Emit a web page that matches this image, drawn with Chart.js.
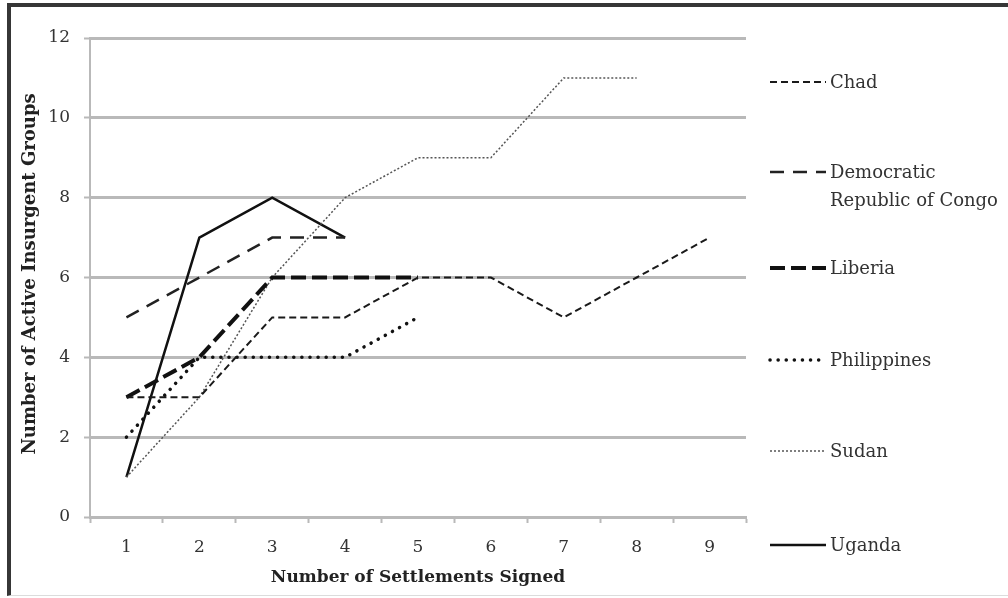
<!DOCTYPE html>
<html>
<head>
<meta charset="utf-8">
<script src="https://cdn.jsdelivr.net/npm/chart.js@4.4.1/dist/chart.umd.min.js"></script>
<style>
    body { margin: 0; background: #fff; }
    #wrap { position: relative; width: 1008px; height: 598px; overflow: hidden; }
    #frame {
        position: absolute; left: 7px; top: 3px; width: 1010px; height: 588px;
        border-top: 4px solid #363636; border-left: 4px solid #363636;
        border-bottom: 1px solid #dcdcdc;
    }
    canvas { position: absolute; left: 0; top: 0; }
</style>
</head>
<body>
<div id="wrap">
    <div id="frame"></div>
    <canvas id="chart" width="1008" height="598"></canvas>
</div>
<script>
// Number of settlements signed (x categories)
const categories = ["1", "2", "3", "4", "5", "6", "7", "8", "9"];

// Active insurgent groups per country
const chad = [3, 3, 5, 5, 6, 6, 5, 6, 7];
const drc = [5, 6, 7, 7];
const liberia = [3, 4, 6, 6, 6];
const philippines = [2, 4, 4, 4, 5];
const sudan = [1, 3, 6, 8, 9, 9, 11, 11];
const uganda = [1, 7, 8, 7];

const countryNames = ["Chad", "Democratic\nRepublic of Congo", "Liberia", "Philippines", "Sudan", "Uganda"];

const serif = "'DejaVu Serif', 'Liberation Serif', serif";
const gridGrey = "#b9b9b9";

function line(label, data, width, dash, color, cap) {
    return {
        label: label,
        data: data,
        borderColor: color,
        borderWidth: width,
        borderDash: dash,
        borderCapStyle: cap || "butt",
        pointRadius: 0,
        fill: false,
        tension: 0
    };
}

// legend rows: y of sample line / first text line
const legendRows = [82, 172, 268, 360, 451, 545];

const sidePlugin = {
    id: "side",
    afterDraw(chart) {
        const ctx = chart.ctx;
        ctx.save();
        // legend
        chart.data.datasets.forEach((ds, i) => {
            const y = legendRows[i];
            ctx.beginPath();
            ctx.strokeStyle = ds.borderColor;
            ctx.lineWidth = ds.borderWidth;
            ctx.lineCap = ds.borderCapStyle;
            ctx.setLineDash(ds.borderDash);
            ctx.moveTo(770, y);
            ctx.lineTo(826, y);
            ctx.stroke();
            ctx.setLineDash([]);
            ctx.fillStyle = "#333";
            ctx.font = "18px " + serif;
            ctx.textAlign = "left";
            ctx.textBaseline = "middle";
            countryNames[i].split("\n").forEach((t, k) => {
                ctx.fillText(t, 830, y + 1 + k * 28);
            });
        });
        // axis titles
        ctx.fillStyle = "#222";
        ctx.font = "bold 17px " + serif;
        ctx.textAlign = "center";
        ctx.textBaseline = "middle";
        const area = chart.chartArea;
        ctx.fillText("Number of Settlements Signed", (area.left + area.right) / 2, 578);
        ctx.font = "bold 18px " + serif;
        ctx.translate(30, 274);
        ctx.rotate(-Math.PI / 2);
        ctx.fillText("Number of Active Insurgent Groups", 0, 0);
        ctx.restore();
    }
};

const ctx = document.getElementById("chart").getContext("2d");
new Chart(ctx, {
    type: "line",
    data: {
        labels: categories,
        datasets: [
            line("Chad", chad, 2, [7, 4], "#1a1a1a"),
            line("Democratic Republic of Congo", drc, 2.5, [14, 9], "#222"),
            line("Liberia", liberia, 4, [15, 6], "#111"),
            line("Philippines", philippines, 3.5, [0.1, 8], "#111", "round"),
            line("Sudan", sudan, 1.5, [2, 2], "#555"),
            line("Uganda", uganda, 2.5, [], "#111")
        ]
    },
    options: {
        responsive: false,
        animation: false,
        layout: { padding: { top: 38, right: 262, left: 0, bottom: 0 } },
        plugins: { legend: { display: false }, tooltip: { enabled: false } },
        scales: {
            x: {
                offset: true,
                grid: {
                    offset: true,
                    drawOnChartArea: false,
                    drawTicks: true,
                    tickLength: 6,
                    tickColor: gridGrey,
                    tickWidth: 2
                },
                border: { display: true, color: gridGrey, width: 3 },
                ticks: {
                    color: "#333",
                    font: { family: serif, size: 17 },
                    padding: 14,
                    maxRotation: 0
                },
                afterFit(scale) { scale.height = 81; }
            },
            y: {
                min: 0,
                max: 12,
                grid: {
                    color: gridGrey,
                    lineWidth: 3,
                    drawTicks: true,
                    tickLength: 6,
                    tickColor: gridGrey,
                    tickWidth: 2
                },
                border: { display: true, color: gridGrey, width: 2 },
                ticks: {
                    stepSize: 2,
                    color: "#333",
                    font: { family: serif, size: 17 },
                    padding: 14
                },
                afterFit(scale) { scale.width = 90; }
            }
        }
    },
    plugins: [sidePlugin]
});
</script>
</body>
</html>
